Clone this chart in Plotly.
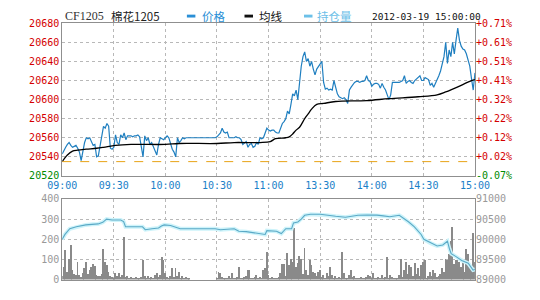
import plotly.graph_objects as go

# ---------------- data ----------------
minutes = list(range(241))

price = [
    20543, 20547, 20550, 20553, 20555, 20552, 20550, 20551, 20552, 20549,
    20545, 20536, 20548, 20555, 20560, 20559, 20560, 20556, 20552, 20553,
    20540, 20541, 20550, 20560, 20572, 20570, 20575, 20572, 20549, 20548,
    20550, 20563, 20555, 20553, 20563, 20560, 20565, 20558, 20562, 20562,
    20562, 20561, 20562, 20562, 20563, 20561, 20550, 20540, 20562, 20557,
    20560, 20553, 20555, 20550, 20545, 20542, 20553, 20560, 20559, 20558,
    20560, 20562, 20560, 20553, 20548, 20545, 20540, 20560, 20555, 20557,
    20560, 20559, 20560, 20560, 20560, 20560, 20560, 20560, 20560, 20560,
    20560, 20560, 20560, 20560, 20560, 20560, 20560, 20560, 20560, 20560,
    20561, 20563, 20565, 20570, 20566, 20565, 20566, 20560, 20560, 20560,
    20560, 20561, 20560, 20560, 20558, 20553, 20555, 20556, 20550, 20553,
    20554, 20550, 20551, 20555, 20553, 20560, 20559, 20560, 20565, 20570,
    20568, 20567, 20568, 20568, 20566, 20565, 20565, 20570, 20575, 20577,
    20580, 20588, 20585, 20595, 20606, 20604, 20610, 20600, 20618, 20635,
    20645, 20650, 20640, 20643, 20635, 20640, 20632, 20626, 20632, 20635,
    20637, 20640, 20618, 20611, 20612, 20610, 20611, 20610, 20620, 20614,
    20606, 20603, 20602, 20601, 20602, 20600, 20596, 20610, 20613, 20616,
    20618, 20619, 20619, 20618, 20619, 20619, 20620, 20625, 20620, 20619,
    20614, 20616, 20617, 20617, 20616, 20612, 20617, 20613, 20610, 20605,
    20600, 20605, 20618, 20618, 20618, 20618, 20618, 20619, 20620, 20625,
    20617, 20619, 20620, 20618, 20617, 20620, 20622, 20623, 20625, 20620,
    20620, 20623, 20622, 20621, 20615, 20617, 20613, 20617, 20620, 20625,
    20630, 20638, 20645, 20660, 20638, 20652, 20645, 20660, 20648, 20662,
    20675, 20662, 20656, 20653, 20652, 20648, 20642, 20635, 20622, 20610,
    20628,
]

avg_minutes = [0, 3, 6, 9, 14, 20, 24, 31, 40, 60, 68, 90, 100, 115, 121, 124,
               130, 132, 134, 136, 138, 141, 143, 145, 148, 152, 159, 177, 190,
               207, 218, 223, 227, 232, 238, 240]
avg_price = [20535, 20542, 20546, 20547, 20548, 20549, 20550, 20552, 20553,
             20553, 20554, 20554, 20555, 20555, 20556, 20559, 20560, 20561,
             20564, 20568, 20571, 20580, 20585, 20590, 20595, 20596, 20598,
             20599, 20601, 20603, 20605, 20608, 20611, 20615, 20620, 20621]

oi_minutes = [0, 1.6, 4.4, 8.2, 13.7, 17.6, 20.9, 23.6, 25.8, 29, 34, 35.7, 36.8,
              46.7, 48.3, 52.2, 56, 57.7, 59.3, 63, 67, 68.6, 89, 92, 100, 102.7,
              107, 114, 118, 119, 124.6, 127.4, 130, 133.4, 134.5, 137, 139, 141,
              144.4, 150, 153.8, 159, 164.7, 168.6, 172, 177.4, 183, 186.7, 190.5,
              196, 197.7, 201.5, 204.8, 208.7, 210.3, 214.2, 218, 221.3, 224,
              225.2, 226.2, 229, 232.3, 236.1, 238.9, 240]
open_interest = [90000, 90120, 90262, 90310, 90357, 90370, 90381, 90420, 90500,
                 90480, 90480, 90440, 90310, 90310, 90238, 90262, 90280, 90330,
                 90357, 90340, 90290, 90262, 90262, 90238, 90262, 90200, 90190,
                 90143, 90119, 90214, 90200, 90143, 90262, 90262, 90405, 90430,
                 90500, 90595, 90619, 90619, 90595, 90570, 90548, 90570, 90595,
                 90600, 90600, 90580, 90560, 90595, 90548, 90429, 90310, 90119,
                 90000, 89905, 89833, 89860, 89952, 89760, 89643, 89570, 89476,
                 89405, 89238, 89250]

volume = [
    20, 63, 146, 40, 103, 171, 48, 30, 25, 87,
    24, 15, 32, 60, 87, 30, 48, 63, 79, 67,
    24, 20, 16, 30, 151, 87, 71, 40, 20, 15,
    10, 32, 20, 35, 12, 24, 214, 15, 16, 10,
    12, 8, 10, 13, 8, 10, 12, 98, 16, 10,
    19, 8, 13, 10, 24, 35, 15, 24, 114, 95,
    32, 12, 10, 20, 56, 15, 60, 20, 40, 10,
    19, 8, 13, 6, 8, 0, 0, 0, 0, 0,
    0, 0, 0, 0, 0, 0, 0, 0, 0, 0,
    10, 40, 32, 12, 8, 10, 6, 19, 10, 35,
    8, 10, 13, 63, 10, 8, 12, 20, 48, 48,
    10, 8, 15, 24, 6, 13, 8, 48, 56, 135,
    24, 10, 13, 6, 8, 10, 15, 32, 76, 79,
    20, 130, 71, 103, 87, 254, 63, 83, 119, 103,
    30, 159, 48, 24, 95, 71, 40, 32, 20, 40,
    48, 15, 24, 10, 35, 20, 63, 24, 10, 19,
    8, 13, 10, 135, 32, 10, 8, 24, 48, 12,
    19, 8, 10, 6, 13, 8, 10, 12, 24, 19,
    8, 32, 10, 6, 13, 8, 24, 10, 15, 111,
    10, 24, 13, 8, 6, 10, 24, 103, 15, 48,
    87, 30, 71, 63, 20, 83, 30, 56, 20, 71,
    87, 95, 10, 16, 40, 20, 48, 35, 15, 20,
    30, 56, 40, 103, 95, 127, 190, 262, 79, 95,
    111, 87, 63, 103, 40, 151, 127, 71, 63, 230,
    90,
]

x_tick_vals = [0, 30, 60, 90, 120, 150, 180, 210, 240]
x_tick_labels = ["09:00", "09:30", "10:00", "10:30", "11:00",
                 "13:30", "14:00", "14:30", "15:00"]
price_ticks = [20520, 20540, 20560, 20580, 20600, 20620, 20640, 20660, 20680]
base_price = 20535
vol_ticks = [0, 100, 200, 300, 400]
oi_ticks = [89000, 89500, 90000, 90500, 91000]

symbol = "CF1205"
name = "棉花1205"
legend_names = ["价格", "均线", "持仓量"]
timestamp = "2012-03-19 15:00:00"

# ---------------- styling ----------------
W, H = 540, 300
RED = "#d40000"
GREEN = "#008a00"
GRAY_TXT = "#999999"
BLUE_TXT = "#1a80c8"
PRICE_C = "#1f7fc0"
OI_C = "#5aa9c6"
FRAME = "#8f8f8f"
GRID = "#b8b8b8"
MONO = "DejaVu Sans Mono"

def px_x(p):
    return p / W

def px_y(p):
    return 1 - p / H

xdom = [px_x(50), px_x(487)]
ydom_main = [px_y(177), px_y(18)]
ydom_low = [px_y(285), px_y(201)]

left_text = [
    "<span style='color:%s'>%d</span>" % (GREEN if v < base_price else RED, v)
    for v in price_ticks
]
right_text = []
for v in price_ticks:
    pct = (v / base_price - 1) * 100
    col = GREEN if pct < 0 else RED
    right_text.append("<span style='color:%s'>%+.2f%%</span>" % (col, pct))

fig = go.Figure()

# base price dashed line
fig.add_trace(go.Scatter(x=[0, 240], y=[base_price, base_price], mode="lines",
                         line=dict(color="#e8a317", width=1, dash="dash"),
                         xaxis="x", yaxis="y2", hoverinfo="skip"))
# price
fig.add_trace(go.Scatter(x=minutes, y=price, mode="lines",
                         line=dict(color=PRICE_C, width=1.2),
                         xaxis="x", yaxis="y"))
# average
fig.add_trace(go.Scatter(x=avg_minutes, y=avg_price, mode="lines",
                         line=dict(color="#000000", width=1.3, shape="spline"),
                         xaxis="x", yaxis="y"))
# volume
fig.add_trace(go.Bar(x=minutes, y=volume, width=0.55,
                     marker=dict(color="#8a8a8a", line=dict(width=0)),
                     xaxis="x2", yaxis="y3"))
# open interest glow + line
fig.add_trace(go.Scatter(x=oi_minutes, y=open_interest, mode="lines",
                         line=dict(color="#cdf3fa", width=4),
                         xaxis="x2", yaxis="y4", hoverinfo="skip"))
fig.add_trace(go.Scatter(x=oi_minutes, y=open_interest, mode="lines",
                         line=dict(color=OI_C, width=1.1),
                         xaxis="x2", yaxis="y4"))

axis_font = dict(family=MONO, size=10)

common_x = dict(range=[0, 240], domain=xdom, tickvals=x_tick_vals,
                showgrid=True, gridcolor=GRID, griddash="dot", gridwidth=1,
                showline=True, linecolor=FRAME, linewidth=1, mirror=True,
                zeroline=False, ticks="", fixedrange=True)

fig.update_layout(
    width=W, height=H,
    margin=dict(l=0, r=0, t=0, b=0),
    paper_bgcolor="white", plot_bgcolor="white",
    showlegend=False,
    bargap=0,
    xaxis=dict(**common_x, anchor="y", ticktext=x_tick_labels,
               tickfont=dict(family=MONO, size=10, color=BLUE_TXT)),
    xaxis2=dict(**common_x, anchor="y3", showticklabels=False),
    yaxis=dict(range=[20520, 20680], domain=ydom_main, tickvals=price_ticks,
               ticktext=left_text, tickfont=axis_font,
               showgrid=True, gridcolor=GRID, griddash="dot",
               showline=True, linecolor=FRAME, mirror=True, zeroline=False,
               ticks="", anchor="x"),
    yaxis2=dict(range=[20520, 20680], domain=ydom_main, tickvals=price_ticks,
                ticktext=right_text, tickfont=axis_font, overlaying="y",
                side="right", showgrid=False, showline=False, zeroline=False,
                ticks="", anchor="x"),
    yaxis3=dict(range=[0, 400], domain=ydom_low, tickvals=vol_ticks,
                tickfont=dict(family=MONO, size=10, color=GRAY_TXT),
                showgrid=True, gridcolor=GRID, griddash="dot",
                showline=True, linecolor=FRAME, mirror=True, zeroline=False,
                ticks="", anchor="x2"),
    yaxis4=dict(range=[89000, 91000], domain=ydom_low, tickvals=oi_ticks,
                tickformat="d",
                tickfont=dict(family=MONO, size=10, color=GRAY_TXT),
                overlaying="y3", side="right", showgrid=False, showline=False,
                zeroline=False, ticks="", anchor="x2"),
)

# header
hy = px_y(10.5)
head = [
    (51, symbol, "Liberation Serif", 12, "#333333"),
    (99, name, "Noto Sans CJK SC", 11.5, "#222222"),
    (196, legend_names[0], "Noto Sans CJK SC", 11.5, "#2a8fd6"),
    (256, legend_names[1], "Noto Sans CJK SC", 11.5, "#111111"),
    (318, legend_names[2], "Noto Sans CJK SC", 11.5, "#6cc0e8"),
    (376, timestamp, MONO, 9.5, "#111111"),
]
for x, t, fam, sz, col in head:
    fig.add_annotation(x=px_x(x), y=hy, xref="paper", yref="paper", text=t,
                       showarrow=False, xanchor="left", yanchor="middle",
                       font=dict(family=fam, size=sz, color=col))
for x0, col in [(182, "#2a8fd6"), (243, "#111111"), (306, "#6cc0e8")]:
    fig.add_shape(type="rect", xref="paper", yref="paper",
                  x0=px_x(x0), x1=px_x(x0 + 9), y0=px_y(12), y1=px_y(9),
                  fillcolor=col, line=dict(width=0))

fig.write_html("out.html")
